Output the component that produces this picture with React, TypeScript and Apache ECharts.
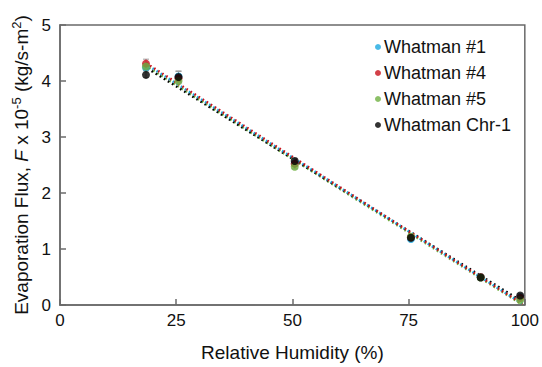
import React, { useEffect, useRef } from "react";
import * as echarts from "echarts";

// Relative humidity (%) at which each paper was measured
const humidity = [18.5, 25.5, 50.5, 75.5, 90.5, 99];

// Evaporation flux, F x 10^-5 (kg/s-m^2)
const whatman1 = [4.24, 4.08, 2.53, 1.18, 0.5, 0.14];
const whatman4 = [4.31, 4.05, 2.52, 1.21, 0.5, 0.13];
const whatman5 = [4.26, 4.0, 2.47, 1.22, 0.49, 0.09];
const whatmanChr1 = [4.11, 4.07, 2.57, 1.2, 0.49, 0.17];

// Standard deviations (error bars)
const err1 = [0.05, 0.1, 0.03, 0.03, 0.03, 0.03];
const err4 = [0.08, 0.06, 0.04, 0.03, 0.03, 0.03];
const err5 = [0.05, 0.05, 0.04, 0.03, 0.03, 0.03];
const errChr1 = [0.05, 0.1, 0.05, 0.03, 0.03, 0.03];

const seriesNames = ["Whatman #1", "Whatman #4", "Whatman #5", "Whatman Chr-1"];
const seriesColors = ["#1ba9e1", "#c8101a", "#6fb041", "#000000"];

const xTicks = [0, 25, 50, 75, 100];

function linearFit(xs: number[], ys: number[]) {
  const n = xs.length;
  const mx = xs.reduce((a, b) => a + b, 0) / n;
  const my = ys.reduce((a, b) => a + b, 0) / n;
  let sxy = 0;
  let sxx = 0;
  for (let i = 0; i < n; i++) {
    sxy += (xs[i] - mx) * (ys[i] - my);
    sxx += (xs[i] - mx) * (xs[i] - mx);
  }
  const slope = sxy / sxx;
  return { slope, intercept: my - slope * mx };
}

export default function App() {
  const ref = useRef<HTMLDivElement>(null);

  useEffect(() => {
    document.body.style.margin = "0";
    document.body.style.overflow = "hidden";
    if (!ref.current) return;
    const chart = echarts.init(ref.current, null, { renderer: "svg" });
    const values = [whatman1, whatman4, whatman5, whatmanChr1];
    const errors = [err1, err4, err5, errChr1];

    const font = "Liberation Sans, Arial, sans-serif";
    const series: any[] = [];

    // dotted linear trend lines, staggered so the colours interleave
    const dashOffsets = [1.6, 0, 0.8, 3.2];
    const lineZ = [3, 3, 2, 2];
    values.forEach((ys, k) => {
      const { slope, intercept } = linearFit(humidity, ys);
      const x0 = humidity[0];
      const x1 = humidity[humidity.length - 1] + 0.5;
      series.push({
        type: "line",
        name: seriesNames[k] + " fit",
        data: [
          [x0, slope * x0 + intercept],
          [x1, slope * x1 + intercept],
        ],
        showSymbol: false,
        symbol: "none",
        lineStyle: { color: seriesColors[k], width: 2.5, type: [1.6, 3.2], dashOffset: dashOffsets[k] },
        z: lineZ[k],
        silent: true,
      });
    });

    // error bars
    values.forEach((ys, k) => {
      series.push({
        type: "custom",
        name: seriesNames[k] + " err",
        data: humidity.map((x, i) => [x, ys[i] - errors[k][i], ys[i] + errors[k][i]]),
        renderItem: (params: any, api: any) => {
          const lo = api.coord([api.value(0), api.value(1)]);
          const hi = api.coord([api.value(0), api.value(2)]);
          const w = 3;
          const style = { stroke: "#a0a0a0", lineWidth: 1 };
          return {
            type: "group",
            children: [
              { type: "line", shape: { x1: lo[0], y1: lo[1], x2: hi[0], y2: hi[1] }, style },
              { type: "line", shape: { x1: hi[0] - w, y1: hi[1], x2: hi[0] + w, y2: hi[1] }, style },
              { type: "line", shape: { x1: lo[0] - w, y1: lo[1], x2: lo[0] + w, y2: lo[1] }, style },
            ],
          };
        },
        z: 4,
        silent: true,
      });
    });

    // data points
    values.forEach((ys, k) => {
      series.push({
        type: "scatter",
        name: seriesNames[k],
        data: humidity.map((x, i) => [x, ys[i]]),
        symbol: "circle",
        symbolSize: 8,
        itemStyle: { color: seriesColors[k] },
        z: 5 + k,
      });
    });

    chart.setOption({
      animation: false,
      backgroundColor: "#ffffff",
      grid: { left: 60, right: 15, top: 25, bottom: 56, show: true, borderColor: "#6a6a6a", borderWidth: 1.5, containLabel: false },
      legend: {
        data: seriesNames.map((n, k) => ({ name: n, icon: "circle", itemStyle: { color: seriesColors[k] } })),
        orient: "vertical",
        left: 370,
        top: 33,
        itemWidth: 6,
        itemHeight: 6,
        itemGap: 8,
        textStyle: { fontFamily: font, fontSize: 18, color: "#111111", padding: [0, 0, 0, -2] },
      },
      xAxis: {
        type: "value",
        min: 0,
        max: 100,
        interval: 25,
        name: "Relative Humidity (%)",
        nameLocation: "middle",
        nameGap: 38,
        nameTextStyle: { fontFamily: font, fontSize: 19, color: "#111111" },
        axisLine: { lineStyle: { color: "#6a6a6a", width: 1.5 } },
        axisTick: { inside: true, length: 6, lineStyle: { color: "#6a6a6a", width: 1.5 } },
        axisLabel: {
          fontFamily: font,
          fontSize: 17,
          color: "#111111",
          margin: 7,
          formatter: (v: number) => (xTicks.includes(v) ? String(v) : ""),
        },
        splitLine: { show: false },
      },
      yAxis: {
        type: "value",
        min: 0,
        max: 5,
        interval: 1,
        name: "{a|Evaporation Flux, }{i|F}{a| x 10}{s|-5}{a| (kg/s-m}{s|2}{a|)}",
        nameLocation: "middle",
        nameGap: 23,
        nameTextStyle: {
          fontFamily: font,
          fontSize: 19,
          color: "#111111",
          rich: {
            a: { fontFamily: font, fontSize: 19, color: "#111111" },
            i: { fontFamily: font, fontSize: 19, color: "#111111", fontStyle: "italic" },
            s: { fontFamily: font, fontSize: 13, color: "#111111", padding: [0, 0, 9, 0] },
          },
        },
        axisLine: { show: true, lineStyle: { color: "#6a6a6a", width: 1.5 } },
        axisTick: { show: true, inside: true, length: 6, lineStyle: { color: "#6a6a6a", width: 1.5 } },
        axisLabel: { fontFamily: font, fontSize: 17, color: "#111111", margin: 9 },
        splitLine: { show: false },
      },
      series,
    });

    return () => chart.dispose();
  }, []);

  return <div ref={ref} style={{ width: 542, height: 367 }} />;
}
